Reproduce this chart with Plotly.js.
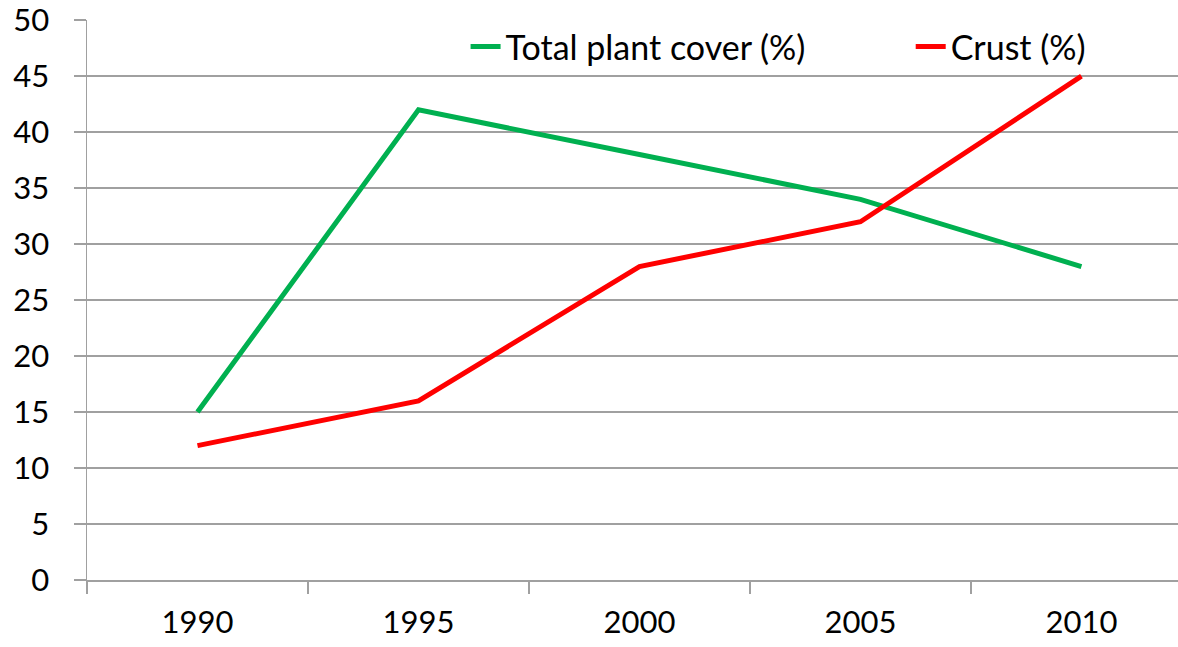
<!DOCTYPE html>
<html>
<head>
<meta charset="utf-8">
<script src="https://cdn.plot.ly/plotly-3.0.1.min.js"></script>
<style>html,body{margin:0;padding:0;background:#fff;}#chart{width:1178px;height:647px;}</style>
</head>
<body>
<div id="chart"></div>
<script>
const years = ['1990', '1995', '2000', '2005', '2010'];
const plantCover = [15, 42, 38, 34, 28];
const crust = [12, 16, 28, 32, 45];
const yTicks = [0, 5, 10, 15, 20, 25, 30, 35, 40, 45, 50];

const font = {family: 'Lato, "Open Sans", sans-serif', size: 31, color: '#000'};
const legendFont = {family: 'Lato, "Open Sans", sans-serif', size: 34, color: '#000'};
const gray = '#a0a0a0';

const traces = [
  {x: years, y: plantCover, name: 'Total plant cover (%)', type: 'scatter', mode: 'lines',
   line: {color: '#00b050', width: 5}, legend: 'legend'},
  {x: years, y: crust, name: 'Crust (%)', type: 'scatter', mode: 'lines',
   line: {color: '#ff0000', width: 5}, legend: 'legend2'}
];

const legendBase = {orientation: 'h', yref: 'paper', xref: 'paper', y: 0.952,
  xanchor: 'left', yanchor: 'middle', bgcolor: 'rgba(255,255,255,0)', font: legendFont};

const layout = {
  width: 1178, height: 647,
  margin: {l: 87, r: 0, t: 20, b: 67},
  paper_bgcolor: '#fff', plot_bgcolor: '#fff',
  font: font,
  showlegend: true,
  legend: Object.assign({}, legendBase, {x: 0.347}),
  legend2: Object.assign({}, legendBase, {x: 0.755}),
  xaxis: {type: 'category', range: [-0.5, 4.437], tickson: 'boundaries', ticks: 'outside',
    ticklen: 12, tickcolor: gray, tickwidth: 1.5, showgrid: false, showline: true,
    linecolor: gray, linewidth: 1.5, zeroline: false, ticklabelstandoff: 14,
    tickfont: font},
  yaxis: {range: [0, 50.02], tickvals: yTicks, ticks: 'outside', ticklen: 12, tickcolor: gray,
    tickwidth: 1.5, showgrid: true, gridcolor: gray, gridwidth: 1.5, showline: true,
    linecolor: gray, linewidth: 1.5, zeroline: false, ticklabelstandoff: 18, tickfont: font}
};

Plotly.newPlot('chart', traces, layout, {displayModeBar: false, staticPlot: true});
</script>
</body>
</html>
